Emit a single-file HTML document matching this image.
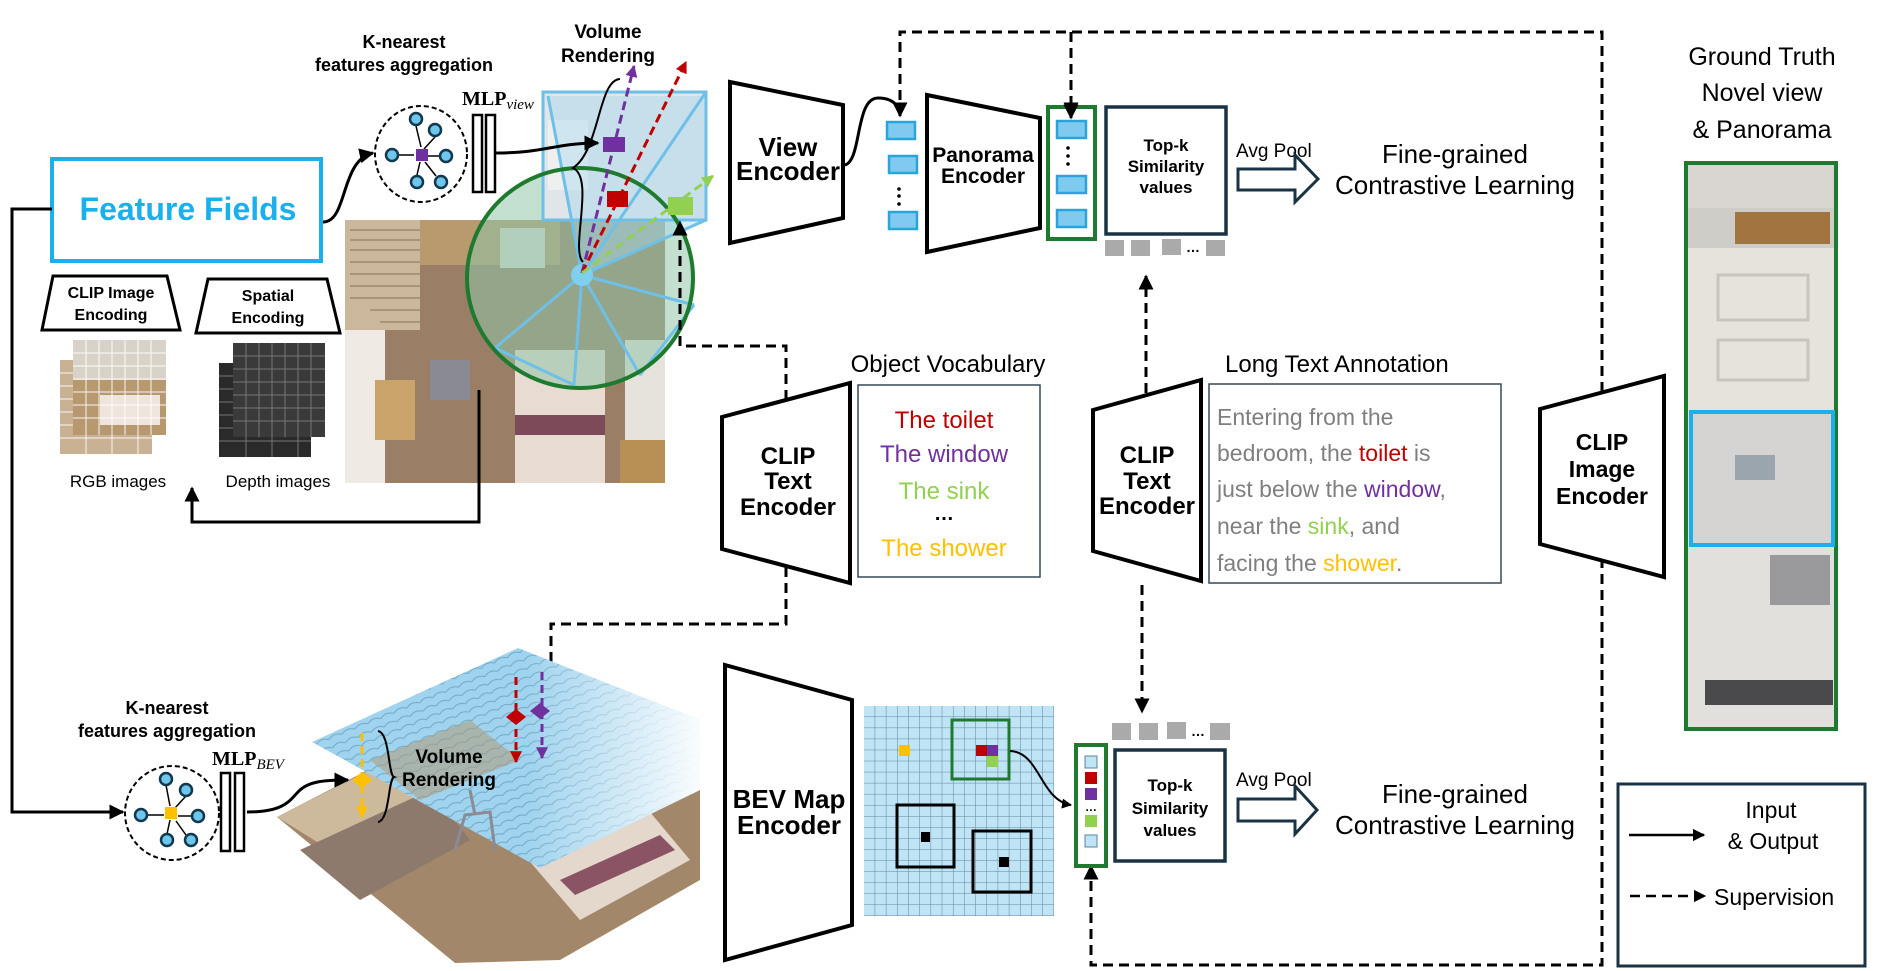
<!DOCTYPE html>
<html><head><meta charset="utf-8">
<style>
html,body{margin:0;padding:0;background:#fff;}
svg{display:block;}
text{font-family:"Liberation Sans",sans-serif;}
.b{font-weight:bold;}
</style></head>
<body>
<svg width="1881" height="971" viewBox="0 0 1881 971" xmlns="http://www.w3.org/2000/svg">
<defs>
<marker id="ah" viewBox="0 0 10 10" refX="9" refY="5" markerWidth="5" markerHeight="5" orient="auto-start-reverse"><path d="M0,0L10,5L0,10z" fill="#000"/></marker>
<marker id="ahp" viewBox="0 0 10 10" refX="9" refY="5" markerWidth="4" markerHeight="4" orient="auto"><path d="M0,0L10,5L0,10z" fill="#7030a0"/></marker>
<marker id="ahr" viewBox="0 0 10 10" refX="9" refY="5" markerWidth="4" markerHeight="4" orient="auto"><path d="M0,0L10,5L0,10z" fill="#c00000"/></marker>
<marker id="ahg" viewBox="0 0 10 10" refX="9" refY="5" markerWidth="4" markerHeight="4" orient="auto"><path d="M0,0L10,5L0,10z" fill="#92d050"/></marker>
<marker id="ahy" viewBox="0 0 10 10" refX="9" refY="5" markerWidth="4" markerHeight="4" orient="auto"><path d="M0,0L10,5L0,10z" fill="#ffc000"/></marker>
<pattern id="grid" x="864" y="706" width="11.18" height="11.05" patternUnits="userSpaceOnUse">
<rect width="11.18" height="11.05" fill="#bfe4f5"/><path d="M11.18,0V11.05M0,11.05H11.18" stroke="#5d8499" stroke-width="1"/></pattern>
<pattern id="tile" width="14" height="9" patternUnits="userSpaceOnUse" patternTransform="rotate(-22)">
<rect width="14" height="9" fill="#9fd3ee"/><path d="M0,8 Q7,3 14,8" stroke="#6fa9c8" fill="none" stroke-width="1"/></pattern>
<linearGradient id="fade" x1="0" y1="0" x2="1" y2="0"><stop offset="0.55" stop-color="#fff" stop-opacity="0"/><stop offset="1" stop-color="#fff" stop-opacity="0.95"/></linearGradient>
<clipPath id="gc"><ellipse cx="580" cy="278" rx="113" ry="110"/></clipPath>
</defs>

<!-- Feature Fields -->
<rect x="52" y="159" width="269" height="102" fill="#fff" stroke="#1ab0ec" stroke-width="4"/>
<text x="188" y="220" text-anchor="middle" class="b" font-size="32" fill="#1ab0ec">Feature Fields</text>
<path d="M52,209H12V812H123" fill="none" stroke="#000" stroke-width="3" marker-end="url(#ah)"/>
<path d="M323,222C348,222 340,160 373,153" fill="none" stroke="#000" stroke-width="3" marker-end="url(#ah)"/>

<!-- encodings -->
<path d="M53,276H167L180,330H42Z" fill="#fff" stroke="#000" stroke-width="3"/>
<text x="111" y="298" text-anchor="middle" class="b" font-size="16">CLIP Image</text>
<text x="111" y="320" text-anchor="middle" class="b" font-size="16">Encoding</text>
<path d="M208,279H327L340,333H196Z" fill="#fff" stroke="#000" stroke-width="3"/>
<text x="268" y="301" text-anchor="middle" class="b" font-size="16">Spatial</text>
<text x="268" y="323" text-anchor="middle" class="b" font-size="16">Encoding</text>
<rect x="60" y="360" width="92" height="94" fill="#c9b293"/>
<rect x="73" y="340" width="93" height="95" fill="#d8d2c8"/>
<rect x="73" y="380" width="93" height="55" fill="#b8996f"/>
<rect x="100" y="395" width="60" height="30" fill="#eee6dc"/>
<g stroke="#fff" stroke-width="1" opacity="0.9">
<path d="M86,340V435M99,340V435M112,340V435M125,340V435M138,340V435M151,340V435M73,353H166M73,366H166M73,379H166M73,392H166M73,405H166M73,418H166"/>
<path d="M60,373H73M60,386H73M60,399H73M60,412H73M60,425H73M60,438H152M86,435V454M112,435V454M138,435V454"/></g>
<rect x="219" y="363" width="92" height="94" fill="#2a2a2a"/>
<rect x="233" y="343" width="92" height="94" fill="#3a3a3a"/>
<g stroke="#777" stroke-width="1">
<path d="M246,343V437M259,343V437M272,343V437M285,343V437M298,343V437M311,343V437M233,356H325M233,369H325M233,382H325M233,395H325M233,408H325M233,421H325"/>
<path d="M219,376H233M219,389H233M219,402H233M219,415H233M219,428H233M219,441H311M246,437V457M272,437V457M298,437V457"/></g>
<text x="118" y="487" text-anchor="middle" font-size="17">RGB images</text>
<text x="278" y="487" text-anchor="middle" font-size="17">Depth images</text>

<!-- top K-nearest -->
<text x="404" y="48" text-anchor="middle" class="b" font-size="18">K-nearest</text>
<text x="404" y="71" text-anchor="middle" class="b" font-size="18">features aggregation</text>
<ellipse cx="421" cy="154" rx="46" ry="48" fill="#fff" stroke="#000" stroke-width="2" stroke-dasharray="5,3"/>
<g stroke="#000" stroke-width="1.5">
<path d="M416,126L421,147M435,137L424,149M398,155L414,155M440,156L428,156M417,175L420,162M436,176L425,162"/></g>
<rect x="416" y="149" width="12" height="12" fill="#7030a0"/>
<g fill="#6ec6ec" stroke="#10384e" stroke-width="2.5">
<circle cx="416" cy="119" r="6"/><circle cx="435" cy="130" r="6"/><circle cx="392" cy="155" r="6"/><circle cx="446" cy="156" r="6"/><circle cx="417" cy="182" r="6"/><circle cx="441" cy="182" r="6"/></g>
<text x="462" y="105" class="b" font-size="20" font-family="Liberation Serif" style="font-family:'Liberation Serif',serif">MLP<tspan font-size="15" font-style="italic" font-weight="normal" dy="4">view</tspan></text>
<rect x="473" y="115" width="9" height="77" fill="#fff" stroke="#000" stroke-width="2.5"/>
<rect x="486" y="115" width="9" height="77" fill="#fff" stroke="#000" stroke-width="2.5"/>

<!-- room photo top -->
<rect x="345" y="220" width="320" height="263" fill="#9a7f66"/>
<rect x="345" y="220" width="75" height="110" fill="#cbb79c"/>
<g stroke="#9c8a72" stroke-width="1.5"><path d="M350,230H420M350,240H420M350,250H420M350,262H420M350,274H420M350,286H420M350,298H420M370,310H420M380,322H420"/></g>
<rect x="420" y="220" width="140" height="45" fill="#b89a6e"/>
<rect x="500" y="228" width="45" height="40" fill="#d9ddd4"/>
<rect x="345" y="330" width="40" height="153" fill="#efeae3"/>
<rect x="375" y="380" width="40" height="60" fill="#c9a36a"/>
<rect x="430" y="360" width="40" height="40" fill="#8a8a94"/>
<rect x="515" y="350" width="90" height="133" fill="#e8dcd2"/>
<rect x="515" y="415" width="90" height="20" fill="#7d4a5a"/>
<rect x="625" y="340" width="40" height="143" fill="#e6e2dc"/>
<rect x="620" y="440" width="45" height="43" fill="#b88f55"/>
<!-- green circle -->
<ellipse cx="580" cy="278" rx="113" ry="110" fill="#8fc4a8" fill-opacity="0.55"/>
<rect x="543" y="92" width="163" height="128" fill="#dfe5e8"/>
<rect x="548" y="120" width="40" height="70" fill="#eef0f0"/>
<path d="M582,275L548,96H706V220Z" fill="#a9d6ee" fill-opacity="0.45"/>
<g stroke="#6ec0e8" stroke-width="3" fill="none">
<rect x="543" y="92" width="163" height="128"/>
<path d="M582,275L548,96M582,275L706,92M582,275L706,220M582,275L694,305M582,275L640,375M582,275L574,385M582,275L495,348L574,385M640,375L694,305"/></g>
<ellipse cx="580" cy="278" rx="113" ry="110" fill="none" stroke="#1e7a2e" stroke-width="4"/>
<circle cx="582" cy="275" r="11" fill="#7fcff0"/>
<path d="M582,273L634,66" stroke="#7030a0" stroke-width="3" stroke-dasharray="9,5" marker-end="url(#ahp)"/>
<path d="M582,273L686,62" stroke="#c00000" stroke-width="3" stroke-dasharray="9,5" marker-end="url(#ahr)"/>
<path d="M582,273L713,176" stroke="#92d050" stroke-width="3" stroke-dasharray="9,5" marker-end="url(#ahg)"/>
<rect x="603" y="137" width="22" height="15" fill="#7030a0"/>
<rect x="607" y="191" width="21" height="16" fill="#c00000"/>
<rect x="668" y="197" width="25" height="18" fill="#92d050"/>
<path d="M496,153C545,153 555,143 598,143" fill="none" stroke="#000" stroke-width="3" marker-end="url(#ah)"/>
<path d="M620,79C598,80 600,150 573,168C595,178 570,250 583,262" fill="none" stroke="#000" stroke-width="2"/>
<text x="608" y="38" text-anchor="middle" class="b" font-size="19">Volume</text>
<text x="608" y="62" text-anchor="middle" class="b" font-size="19">Rendering</text>
<path d="M479,390V522H192V488" fill="none" stroke="#000" stroke-width="3" marker-end="url(#ah)"/>
<!-- dashed from green circle -->
<path d="M786,400V346H680V222" fill="none" stroke="#000" stroke-width="3" stroke-dasharray="10,6" marker-end="url(#ah)"/>

<!-- View encoder -->
<path d="M730,82L843,105V218L730,243Z" fill="#fff" stroke="#000" stroke-width="4"/>
<text x="788" y="156" text-anchor="middle" class="b" font-size="26">View</text>
<text x="788" y="180" text-anchor="middle" class="b" font-size="26">Encoder</text>
<path d="M845,165C862,160 855,98 878,98C895,98 900,108 900,116" fill="none" stroke="#000" stroke-width="3" marker-end="url(#ah)"/>
<g fill="#7ecbef" stroke="#2ba3dd" stroke-width="2.5">
<rect x="887" y="122" width="28" height="17"/><rect x="889" y="156" width="28" height="17"/><rect x="889" y="212" width="28" height="17"/></g>
<g fill="#000"><circle cx="899" cy="189" r="1.8"/><circle cx="899" cy="196" r="1.8"/><circle cx="899" cy="204" r="1.8"/></g>

<!-- Panorama encoder -->
<path d="M927,95L1040,118V228L927,252Z" fill="#fff" stroke="#000" stroke-width="4"/>
<text x="983" y="162" text-anchor="middle" class="b" font-size="21">Panorama</text>
<text x="983" y="183" text-anchor="middle" class="b" font-size="21">Encoder</text>

<!-- top dashed supervision -->
<path d="M900,116V32H1602V965H1091V866" fill="none" stroke="#000" stroke-width="3" stroke-dasharray="10,6" marker-end="url(#ah)"/>
<path d="M1071,32V116" fill="none" stroke="#000" stroke-width="3" stroke-dasharray="10,6" marker-end="url(#ah)"/>

<!-- green column top -->
<rect x="1048" y="107" width="47" height="132" fill="#fff" stroke="#1e7a2e" stroke-width="4"/>
<g fill="#7ecbef" stroke="#2ba3dd" stroke-width="2.5">
<rect x="1057" y="121" width="29" height="17"/><rect x="1057" y="176" width="29" height="17"/><rect x="1057" y="210" width="29" height="17"/></g>
<g fill="#000"><circle cx="1068" cy="148" r="1.8"/><circle cx="1068" cy="156" r="1.8"/><circle cx="1068" cy="164" r="1.8"/></g>
<path d="M1071,32V118" fill="none" stroke="#000" stroke-width="3" stroke-dasharray="10,6" marker-end="url(#ah)"/>

<!-- top-k 1 -->
<rect x="1106" y="107" width="120" height="127" fill="#fff" stroke="#1a3344" stroke-width="3.5"/>
<text x="1166" y="151" text-anchor="middle" class="b" font-size="17">Top-k</text>
<text x="1166" y="172" text-anchor="middle" class="b" font-size="17">Similarity</text>
<text x="1166" y="193" text-anchor="middle" class="b" font-size="17">values</text>
<g fill="#aaa"><rect x="1105" y="240" width="19" height="16"/><rect x="1131" y="240" width="19" height="16"/><rect x="1162" y="239" width="19" height="16"/><rect x="1206" y="240" width="19" height="16"/></g>
<text x="1193" y="252" text-anchor="middle" class="b" font-size="14">…</text>
<path d="M1146,393V276" fill="none" stroke="#000" stroke-width="3" stroke-dasharray="10,6" marker-end="url(#ah)"/>
<text x="1236" y="157" font-size="19">Avg Pool</text>
<path d="M1238,169H1295V155L1318,179L1295,202V190H1238Z" fill="#fff" stroke="#1a3344" stroke-width="3"/>
<text x="1455" y="163" text-anchor="middle" font-size="26">Fine-grained</text>
<text x="1455" y="194" text-anchor="middle" font-size="26">Contrastive Learning</text>

<!-- Object vocabulary -->
<text x="948" y="372" text-anchor="middle" font-size="24">Object Vocabulary</text>
<path d="M722,417L850,383V583L722,549Z" fill="#fff" stroke="#000" stroke-width="4"/>
<text x="788" y="464" text-anchor="middle" class="b" font-size="24">CLIP</text>
<text x="788" y="489" text-anchor="middle" class="b" font-size="24">Text</text>
<text x="788" y="515" text-anchor="middle" class="b" font-size="24">Encoder</text>
<rect x="858" y="385" width="182" height="192" fill="#fff" stroke="#34495a" stroke-width="1.5"/>
<text x="944" y="428" text-anchor="middle" font-size="24" fill="#c00000">The toilet</text>
<text x="944" y="462" text-anchor="middle" font-size="24" fill="#7030a0">The window</text>
<text x="944" y="499" text-anchor="middle" font-size="24" fill="#92d050">The sink</text>
<text x="944" y="520" text-anchor="middle" class="b" font-size="20">…</text>
<text x="944" y="556" text-anchor="middle" font-size="24" fill="#ffc000">The shower</text>
<path d="M786,567V624H551V704" fill="none" stroke="#000" stroke-width="3" stroke-dasharray="10,6" marker-end="url(#ah)"/>

<!-- Long text -->
<text x="1225" y="372" font-size="24">Long Text Annotation</text>
<path d="M1093,410L1201,380V581L1093,551Z" fill="#fff" stroke="#000" stroke-width="4"/>
<text x="1147" y="463" text-anchor="middle" class="b" font-size="24">CLIP</text>
<text x="1147" y="489" text-anchor="middle" class="b" font-size="24">Text</text>
<text x="1147" y="514" text-anchor="middle" class="b" font-size="24">Encoder</text>
<rect x="1209" y="384" width="292" height="199" fill="#fff" stroke="#34495a" stroke-width="1.5"/>
<g font-size="23" fill="#7f7f7f">
<text x="1217" y="425">Entering from the</text>
<text x="1217" y="461">bedroom, the <tspan fill="#c00000">toilet</tspan> is</text>
<text x="1217" y="497">just below the <tspan fill="#7030a0">window</tspan>,</text>
<text x="1217" y="534">near the <tspan fill="#92d050">sink</tspan>, and</text>
<text x="1217" y="571">facing the <tspan fill="#ffc000">shower</tspan>.</text></g>
<path d="M1142,585V712" fill="none" stroke="#000" stroke-width="3" stroke-dasharray="10,6" marker-end="url(#ah)"/>

<!-- CLIP image encoder -->
<path d="M1540,409L1664,376V577L1540,544Z" fill="#fff" stroke="#000" stroke-width="4"/>
<text x="1602" y="450" text-anchor="middle" class="b" font-size="23">CLIP</text>
<text x="1602" y="477" text-anchor="middle" class="b" font-size="23">Image</text>
<text x="1602" y="504" text-anchor="middle" class="b" font-size="23">Encoder</text>

<!-- Ground truth -->
<text x="1762" y="65" text-anchor="middle" font-size="25">Ground Truth</text>
<text x="1762" y="101" text-anchor="middle" font-size="25">Novel view</text>
<text x="1762" y="138" text-anchor="middle" font-size="25">&amp; Panorama</text>
<rect x="1686" y="163" width="150" height="566" fill="#e4e1dc"/>
<rect x="1688" y="163" width="146" height="45" fill="#d8d5d0"/>
<rect x="1688" y="208" width="146" height="40" fill="#cfcdc8"/>
<rect x="1735" y="212" width="95" height="32" fill="#a27540"/>
<rect x="1688" y="248" width="146" height="160" fill="#e6e2dc"/>
<rect x="1718" y="275" width="90" height="45" fill="none" stroke="#c9c4bc" stroke-width="3"/>
<rect x="1718" y="340" width="90" height="40" fill="none" stroke="#c9c4bc" stroke-width="3"/>
<rect x="1692" y="412" width="141" height="133" fill="#d6d4d2"/>
<rect x="1735" y="455" width="40" height="25" fill="#9aa5ae"/>
<rect x="1688" y="548" width="146" height="180" fill="#e2e0dc"/>
<rect x="1770" y="555" width="60" height="50" fill="#9a9a9c"/>
<rect x="1705" y="680" width="128" height="25" fill="#4a4a4c"/>
<rect x="1686" y="163" width="150" height="566" fill="none" stroke="#1e7a2e" stroke-width="4"/>
<rect x="1691" y="412" width="142" height="133" fill="none" stroke="#1ab0ec" stroke-width="4"/>

<!-- Legend -->
<rect x="1618" y="784" width="247" height="182" fill="#fff" stroke="#1a3344" stroke-width="3"/>
<text x="1771" y="818" text-anchor="middle" font-size="23">Input</text>
<text x="1773" y="849" text-anchor="middle" font-size="23">&amp; Output</text>
<path d="M1629,835H1704" stroke="#000" stroke-width="2.5" marker-end="url(#ah)"/>
<path d="M1630,896H1705" stroke="#000" stroke-width="2.5" stroke-dasharray="10,6" marker-end="url(#ah)"/>
<text x="1714" y="905" font-size="23">Supervision</text>

<!-- bottom K-nearest -->
<text x="167" y="714" text-anchor="middle" class="b" font-size="18">K-nearest</text>
<text x="167" y="737" text-anchor="middle" class="b" font-size="18">features aggregation</text>
<ellipse cx="172" cy="813" rx="47" ry="47" fill="#fff" stroke="#000" stroke-width="2" stroke-dasharray="5,3"/>
<g stroke="#000" stroke-width="1.5">
<path d="M166,785L170,806M186,796L175,808M147,815L164,815M192,816L178,816M167,834L170,820M186,835L176,821"/></g>
<rect x="165" y="807" width="12" height="12" fill="#ffc000"/>
<g fill="#6ec6ec" stroke="#10384e" stroke-width="2.5">
<circle cx="166" cy="779" r="6"/><circle cx="186" cy="790" r="6"/><circle cx="141" cy="815" r="6"/><circle cx="198" cy="816" r="6"/><circle cx="167" cy="840" r="6"/><circle cx="191" cy="840" r="6"/></g>
<text x="212" y="765" class="b" font-size="20" style="font-family:'Liberation Serif',serif">MLP<tspan font-size="15" font-style="italic" font-weight="normal" dy="4">BEV</tspan></text>
<rect x="221" y="773" width="9" height="78" fill="#fff" stroke="#000" stroke-width="2.5"/>
<rect x="235" y="773" width="9" height="78" fill="#fff" stroke="#000" stroke-width="2.5"/>

<!-- BEV scene -->
<path d="M277,817L480,712L700,790V880L560,960L455,963Z" fill="#a3876a"/>
<path d="M277,817L380,765L420,800L330,850Z" fill="#cdb99b"/>
<path d="M300,850L430,790L470,840L360,900Z" fill="#8d7a6c"/>
<path d="M520,850L640,800L690,860L580,920Z" fill="#e4d8cc"/>
<path d="M560,880L660,835L675,850L575,895Z" fill="#8a5464"/>
<path d="M312,742L518,648L700,720L700,790L540,868Z" fill="url(#tile)"/>
<path d="M312,742L518,648L700,720L700,790L540,868Z" fill="url(#fade)"/>
<path d="M370,760L470,720L520,760L420,800Z" fill="#b09a78" opacity="0.55"/>
<g stroke="#8b8b95" stroke-width="3" fill="none"><path d="M455,850L465,815L490,812L495,850M475,815L470,790"/></g>
<path d="M362,733V817" stroke="#ffc000" stroke-width="3" stroke-dasharray="8,5" marker-end="url(#ahy)"/>
<path d="M352,780L362,772L372,780L362,788Z" fill="#ffc000"/>
<path d="M247,812C285,812 290,800 298,792C308,781 325,780 348,780" fill="none" stroke="#000" stroke-width="3" marker-end="url(#ah)"/>
<path d="M378,731C390,733 388,775 394,777C388,779 390,820 378,822" fill="none" stroke="#000" stroke-width="2"/>
<text x="449" y="763" text-anchor="middle" class="b" font-size="19">Volume</text>
<text x="449" y="786" text-anchor="middle" class="b" font-size="19">Rendering</text>
<path d="M516,677V762" stroke="#c00000" stroke-width="3" stroke-dasharray="8,5" marker-end="url(#ahr)"/>
<path d="M506,717L516,709L526,717L516,725Z" fill="#c00000"/>
<path d="M542,672V758" stroke="#7030a0" stroke-width="3" stroke-dasharray="8,5" marker-end="url(#ahp)"/>
<path d="M530,711L540,703L550,711L540,719Z" fill="#7030a0"/>

<!-- BEV map encoder -->
<path d="M725,665L852,700V925L725,960Z" fill="#fff" stroke="#000" stroke-width="4"/>
<text x="789" y="808" text-anchor="middle" class="b" font-size="26">BEV Map</text>
<text x="789" y="834" text-anchor="middle" class="b" font-size="26">Encoder</text>
<rect x="864" y="706" width="190" height="210" fill="url(#grid)"/>
<rect x="899" y="745" width="11" height="11" fill="#ffc000"/>
<rect x="976" y="745" width="11" height="11" fill="#c00000"/>
<rect x="987" y="745" width="11" height="11" fill="#7030a0"/>
<rect x="987" y="756" width="11" height="11" fill="#92d050"/>
<rect x="952" y="720" width="57" height="59" fill="none" stroke="#1e7a2e" stroke-width="3"/>
<rect x="897" y="805" width="57" height="62" fill="none" stroke="#000" stroke-width="3"/>
<rect x="921" y="832" width="9" height="10" fill="#000"/>
<rect x="973" y="831" width="58" height="61" fill="none" stroke="#000" stroke-width="3"/>
<rect x="999" y="857" width="10" height="10" fill="#000"/>
<path d="M1010,751C1040,752 1040,800 1071,805" fill="none" stroke="#000" stroke-width="2" marker-end="url(#ah)"/>
<rect x="1076" y="745" width="30" height="121" fill="#fff" stroke="#1e7a2e" stroke-width="4"/>
<rect x="1085" y="756" width="12" height="12" fill="#bfe4f5" stroke="#5d8499"/>
<rect x="1085" y="772" width="12" height="12" fill="#c00000"/>
<rect x="1085" y="788" width="12" height="12" fill="#7030a0"/>
<text x="1091" y="811" text-anchor="middle" class="b" font-size="12">…</text>
<rect x="1085" y="815" width="12" height="12" fill="#92d050"/>
<rect x="1085" y="835" width="12" height="12" fill="#bfe4f5" stroke="#5d8499"/>
<rect x="1115" y="750" width="110" height="111" fill="#fff" stroke="#1a3344" stroke-width="3.5"/>
<text x="1170" y="791" text-anchor="middle" class="b" font-size="17">Top-k</text>
<text x="1170" y="814" text-anchor="middle" class="b" font-size="17">Similarity</text>
<text x="1170" y="836" text-anchor="middle" class="b" font-size="17">values</text>
<g fill="#aaa"><rect x="1112" y="723" width="19" height="17"/><rect x="1139" y="723" width="19" height="17"/><rect x="1167" y="722" width="19" height="17"/><rect x="1210" y="723" width="20" height="17"/></g>
<text x="1198" y="736" text-anchor="middle" class="b" font-size="14">…</text>
<text x="1236" y="786" font-size="19">Avg Pool</text>
<path d="M1238,799H1295V786L1317,810L1295,834V821H1238Z" fill="#fff" stroke="#1a3344" stroke-width="3"/>
<text x="1455" y="803" text-anchor="middle" font-size="26">Fine-grained</text>
<text x="1455" y="834" text-anchor="middle" font-size="26">Contrastive Learning</text>
</svg>
</body></html>
